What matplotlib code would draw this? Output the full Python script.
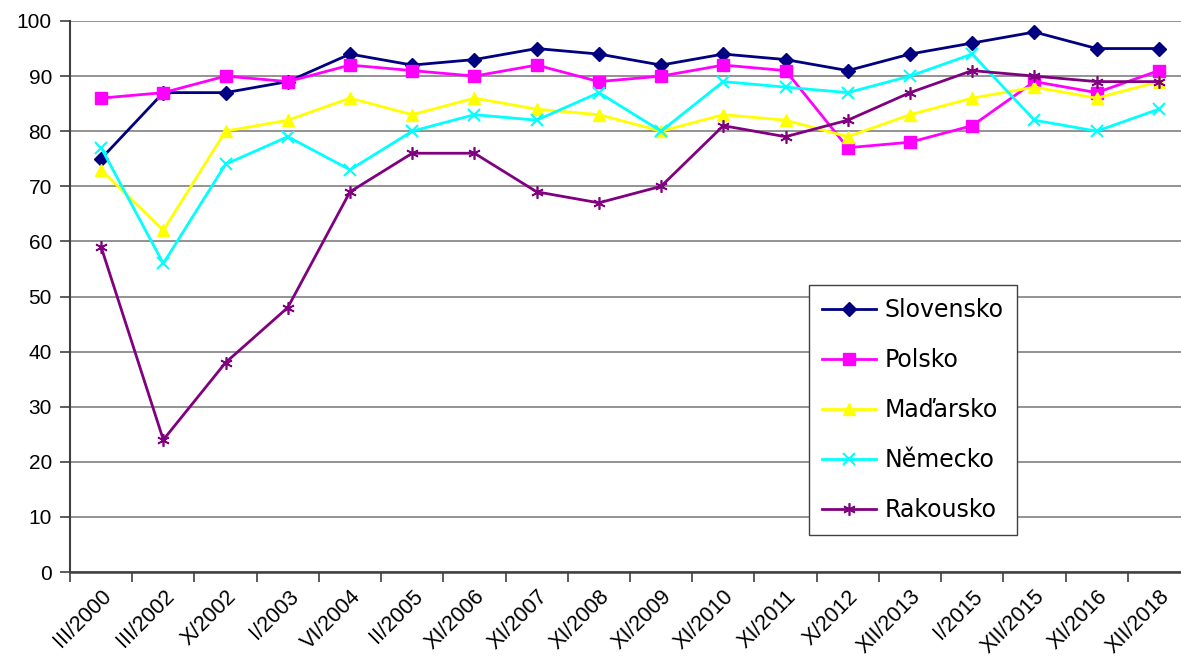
import matplotlib
matplotlib.use('Agg')
import matplotlib.pyplot as plt
import numpy as np

# survey waves
labels = ['III/2000', 'III/2002', 'X/2002', 'I/2003', 'VI/2004', 'II/2005',
          'XI/2006', 'XI/2007', 'XI/2008', 'XI/2009', 'XI/2010', 'XI/2011',
          'X/2012', 'XII/2013', 'I/2015', 'XII/2015', 'XI/2016', 'XII/2018']

slovensko = [75, 87, 87, 89, 94, 92, 93, 95, 94, 92, 94, 93, 91, 94, 96, 98, 95, 95]
polsko = [86, 87, 90, 89, 92, 91, 90, 92, 89, 90, 92, 91, 77, 78, 81, 89, 87, 91]
madarsko = [73, 62, 80, 82, 86, 83, 86, 84, 83, 80, 83, 82, 79, 83, 86, 88, 86, 89]
nemecko = [77, 56, 74, 79, 73, 80, 83, 82, 87, 80, 89, 88, 87, 90, 94, 82, 80, 84]
rakousko = [59, 24, 38, 48, 69, 76, 76, 69, 67, 70, 81, 79, 82, 87, 91, 90, 89, 89]

x = np.arange(len(labels))

fig = plt.figure(figsize=(11.81, 6.62), dpi=100)
# axes run past the right edge like the original (cropped) picture
ax = fig.add_axes([70/1181, 90/662, 1120/1181, 551/662])

ax.set_axisbelow(True)
ax.yaxis.grid(True, color='#808080', linewidth=1.2)

lw = 2.0
ax.plot(x, slovensko, color='#000080', lw=lw, marker='D', ms=7, label='Slovensko')
ax.plot(x, polsko, color='#FF00FF', lw=lw, marker='s', ms=8.5, label='Polsko')
ax.plot(x, madarsko, color='#FFFF00', lw=lw, marker='^', ms=9, label='Maďarsko')
ax.plot(x, nemecko, color='#00FFFF', lw=lw, marker='x', ms=8, mew=1.5, label='Německo')
ax.plot(x, rakousko, color='#800080', lw=lw, marker=(6, 2, 0), ms=9, mew=1.2, label='Rakousko')

ax.set_xlim(-0.5, len(labels) - 0.5)
ax.set_ylim(0, 100)
ax.set_yticks(np.arange(0, 101, 10))
ax.set_xticks(np.arange(len(labels) + 1) - 0.5, minor=False)
ax.set_xticklabels([])
ax.set_xticks(x, minor=True)
ax.set_xticklabels(labels, minor=True, rotation=45, ha='right', va='top',
                   rotation_mode='anchor', fontsize=15.5, family='Liberation Sans')
ax.tick_params(axis='x', which='minor', length=0, pad=10)
ax.tick_params(axis='x', which='major', length=7, width=1.2, color='#404040', direction='out')
ax.tick_params(axis='y', length=7, width=1.2, color='#404040', direction='out', pad=6)
for t in ax.get_yticklabels():
    t.set_fontsize(15)
    t.set_family('Liberation Sans')

for s in ['top', 'right']:
    ax.spines[s].set_visible(False)
ax.spines['left'].set_color('#404040')
ax.spines['left'].set_linewidth(1.5)
ax.spines['bottom'].set_color('#404040')
ax.spines['bottom'].set_linewidth(1.8)

leg = ax.legend(loc='upper left', bbox_to_anchor=(0.66, 0.521), fontsize=17,
                frameon=True, fancybox=False, edgecolor='#404040', framealpha=1,
                handlelength=2.3, labelspacing=1.1, borderpad=0.55, handletextpad=0.35,
                borderaxespad=0)
leg.get_frame().set_linewidth(1.0)

fig.savefig('out.png', dpi=100)
